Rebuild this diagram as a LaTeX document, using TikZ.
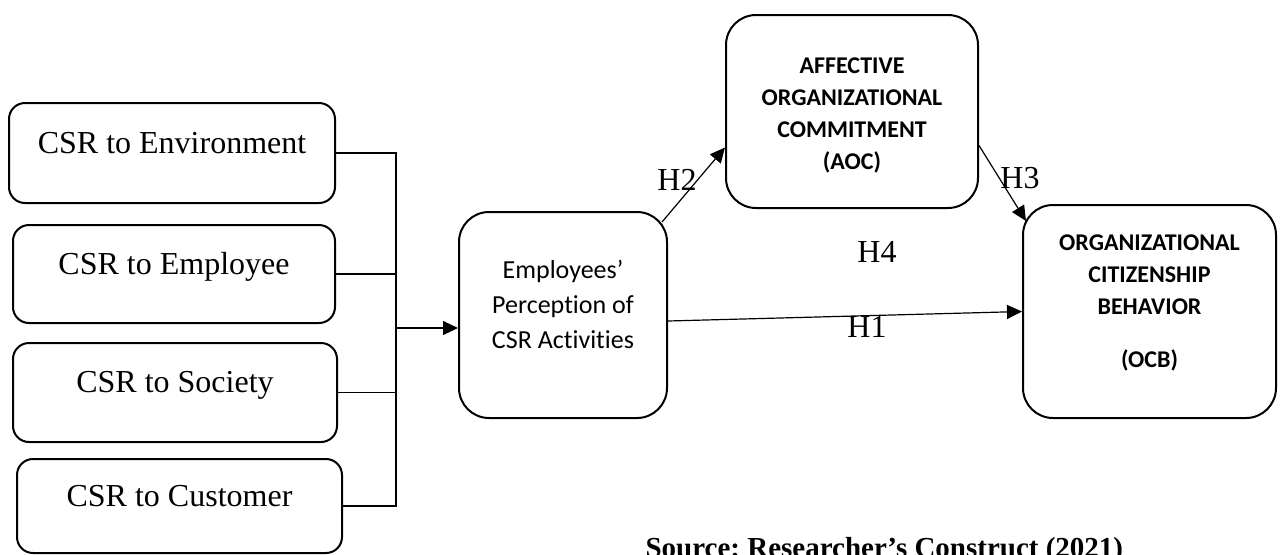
\documentclass[tikz,border=0pt]{standalone}
\usepackage{fontspec}
\setmainfont{Liberation Serif}
\newfontfamily\calibri[Ligatures=NoCommon]{Carlito}
\usetikzlibrary{arrows.meta,positioning}
\frenchspacing
\tikzset{
	>={Triangle[length=7.5pt,width=7pt]},
	every path/.style={line width=0.6pt},
	dimbox/.style={draw, line width=1pt, rounded corners=8pt,
		font=\fontsize{16}{19}\selectfont, text height=11pt, text depth=11pt},
	construct/.style={draw, line width=1pt, rounded corners=15pt, align=center},
	hyp/.style={font=\fontsize{16}{19}\selectfont, inner sep=0pt},
}

\begin{document}
\begin{tikzpicture}[x=0.5pt,y=-0.5pt]
	\useasboundingbox (0,0) rectangle (1281,554);

	% CSR dimensions
	\node[dimbox, minimum width=163pt, minimum height=50pt] (env) at (172,153) {CSR to Environment};
	\node[dimbox, minimum width=161pt, minimum height=49pt] (empl) at (174,274) {CSR to Employee};
	\node[dimbox, minimum width=162pt, minimum height=49.5pt] (soc) at (175,392.5) {CSR to Society};
	\node[dimbox, minimum width=162.5pt, minimum height=47pt] (cust) at (179.5,506) {CSR to Customer};

	% constructs
	\node[construct, minimum width=104pt, minimum height=103pt,
		font=\calibri\fontsize{13}{17.5}\selectfont, text height=40pt, text depth=6.6pt]
		(perc) at (563,315) {Employees’\\Perception of\\CSR Activities};
	\node[construct, minimum width=126pt, minimum height=96.5pt,
		font=\calibri\bfseries\fontsize{12}{16}\selectfont, text height=60pt, text depth=2.2pt]
		(aoc) at (852,111.5) {AFFECTIVE\\ORGANIZATIONAL\\COMMITMENT\\(AOC)};
	\node[construct, minimum width=126.5pt, minimum height=106.5pt,
		font=\calibri\bfseries\fontsize{12}{16}\selectfont, text height=60pt, text depth=4.2pt]
		(ocb) at (1149.5,311.5) {ORGANIZATIONAL\\CITIZENSHIP\\BEHAVIOR\\[10.5pt](OCB)};

	% dimensions into perception
	\coordinate (bus) at (396,328);
	\foreach \d in {env,empl,soc,cust}
		\draw (\d.east) -| (bus);
	\draw[->] (bus) -- (bus -| perc.west);

	% hypotheses
	\draw[->] ([xshift=-3pt,yshift=-5.5pt]perc.north east) -- ([yshift=-18pt]aoc.west);
	\draw[->] ([yshift=-17pt]aoc.east) -- ([xshift=2pt,yshift=-8.5pt]ocb.north west);
	\draw[->] ([yshift=-3pt]perc.east) -- (ocb.west);

	\node[hyp] (h1) at (867,327) {H1};
	\node[hyp] (h2) at (677,180) {H2};
	\node[hyp] (h3) at (1020,178) {H3};
	\node[hyp] (h4) at (877,252) {H4};

	\node[anchor=base west, inner sep=0pt, font=\bfseries\fontsize{14.5}{17}\selectfont]
		(src) at (645,557) {Source: Researcher’s Construct (2021)};
\end{tikzpicture}
\end{document}
